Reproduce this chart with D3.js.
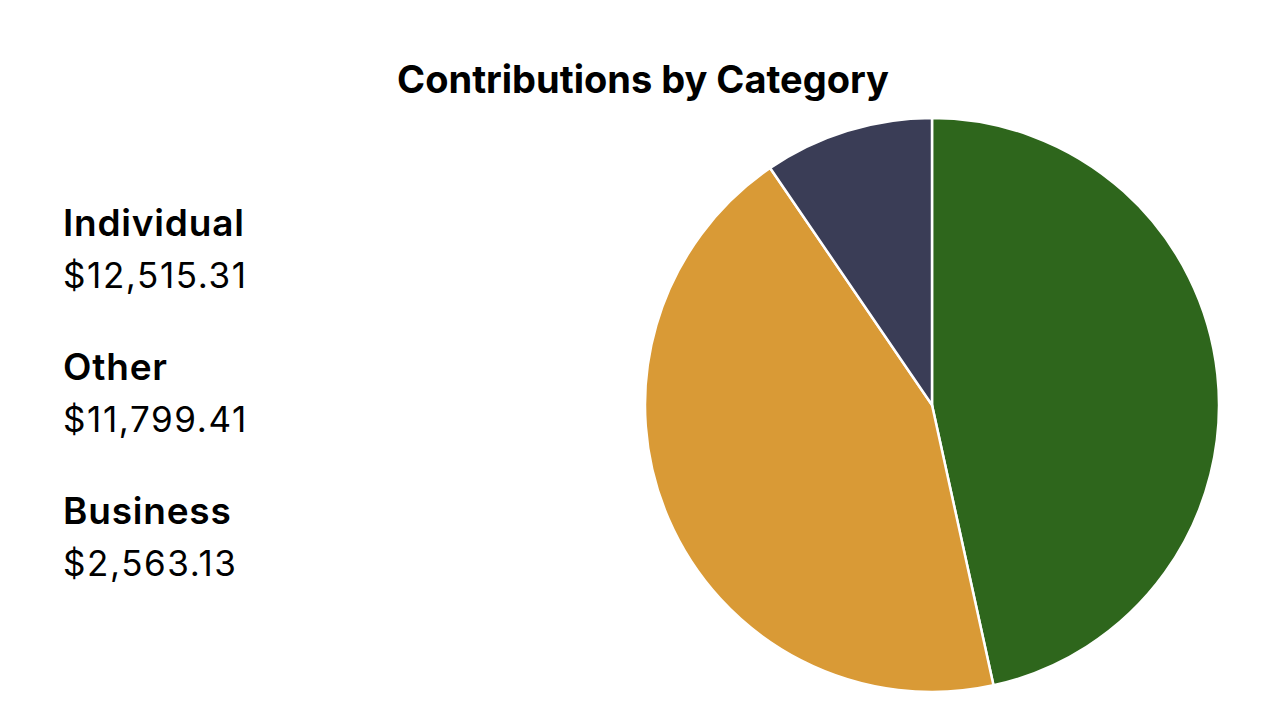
<!DOCTYPE html>
<html>
<head>
<meta charset="utf-8">
<script src="https://cdn.jsdelivr.net/npm/d3@7"></script>
<style>
  html, body { margin: 0; padding: 0; background: #fff; }
  svg { display: block; }
  text { font-family: "Inter", "Noto Sans", sans-serif; fill: #000; }
</style>
</head>
<body>
<svg id="chart" width="1265" height="713"></svg>
<script>
const title = "Contributions by Category";
const categories = ["Individual", "Other", "Business"];
const values = [12515.31, 11799.41, 2563.13];
const colors = ["#2e661c", "#d99a36", "#3a3d56"];

const svg = d3.select("#chart");

svg.append("text")
  .attr("x", 643).attr("y", 93)
  .attr("text-anchor", "middle")
  .attr("font-size", 38).attr("font-weight", 700)
  .text(title);

const data = categories.map((c, i) => ({ name: c, value: values[i], color: colors[i] }));

const pie = d3.pie().sort(null).value(d => d.value);
const arc = d3.arc().innerRadius(0).outerRadius(287);

const g = svg.append("g").attr("transform", "translate(932,405)");
g.selectAll("path").data(pie(data)).join("path")
  .attr("d", arc)
  .attr("fill", d => d.data.color)
  .attr("stroke", "#fff")
  .attr("stroke-width", 2.5);

const fmt = d3.format("$,.2f");
const leg = svg.append("g");
const y = d3.scalePoint().domain(categories).range([236, 524]);
data.forEach(d => {
  leg.append("text").attr("x", 63).attr("y", y(d.name))
    .attr("font-size", 37).attr("font-weight", 600)
    .attr("letter-spacing", 0.8).text(d.name);
  leg.append("text").attr("x", 63).attr("y", y(d.name) + 52)
    .attr("font-size", 35).attr("font-weight", 400)
    .attr("letter-spacing", 1.6).text(fmt(d.value));
});
</script>
</body>
</html>
